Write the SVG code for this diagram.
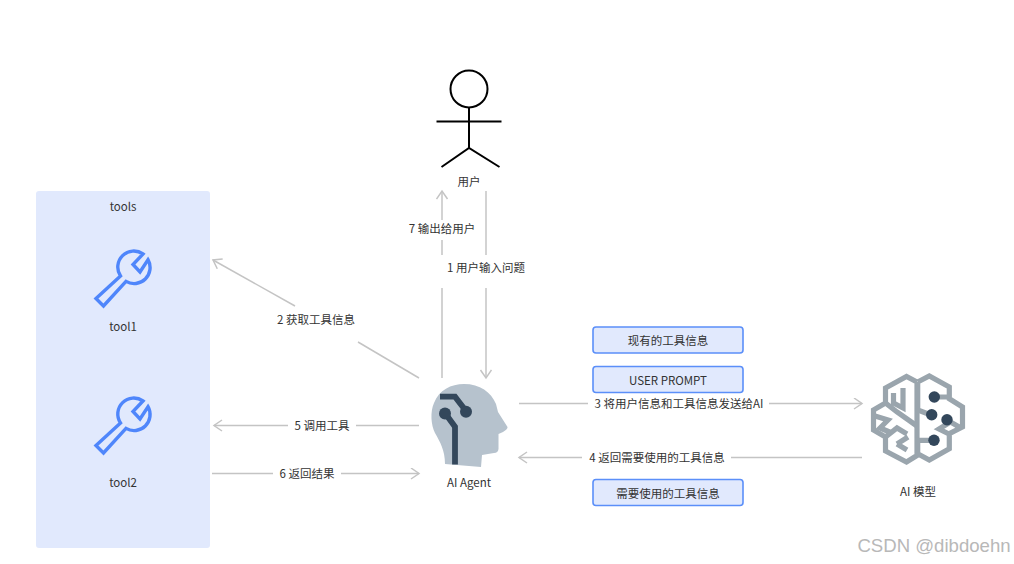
<svg xmlns="http://www.w3.org/2000/svg" width="1014" height="564" viewBox="0 0 1014 564">
<style>
text{font-family:"Noto Sans CJK SC","Noto Sans",sans-serif;font-size:11.500px;fill:#333;text-anchor:middle}
.c{fill:none;stroke:#c4c4c4;stroke-width:1.500}
.a{marker-end:url(#arr)}
.w{fill:none;stroke:#4f86fb;stroke-width:3.400;stroke-linejoin:miter}
.b{fill:#e1e9fd;stroke:#5b8ff9;stroke-width:1.600}
.br{fill:none;stroke:#9aa5ad;stroke-width:5.200;stroke-linejoin:miter}
.d{fill:#33475b}
</style>
<defs>
<marker id="arr" markerUnits="userSpaceOnUse" markerWidth="14" markerHeight="14" refX="9" refY="6" orient="auto"><path d="M1 0.500L9 6L1 11.500" fill="none" stroke="#c4c4c4" stroke-width="1.500"/></marker>
<path id="wrench" d="M96 298.500L120.500 276A16 16 0 0 1 143 254L133 264.500L140 272L148 259.700A16 16 0 0 1 126 281.400L103.500 306Z"/>
</defs>
<rect width="1014" height="564" fill="#fff"/>
<g id="tools"><rect x="36" y="191" width="174" height="357" rx="3" fill="#e1e9fd"/><text x="123" y="210.500">tools</text></g>
<g id="tool1"><use href="#wrench" class="w"/><text x="123" y="330.500">tool1</text></g>
<g id="tool2"><use href="#wrench" class="w" y="147"/><text x="123" y="486.500">tool2</text></g>
<g id="user" fill="none" stroke="#000" stroke-width="2"><circle cx="469" cy="89" r="18.500"/><path d="M469 108V148M436.500 121.500H501.500M441.500 167L469 148L499.500 167"/><text x="469" y="186" stroke="none">用户</text></g>
<g id="agent"><path d="M445 464C445 450 440 442 435 433C431 425 430 412 434 403C439 390 451 384 464 384C480 384 491 392 496 404L498 412L507.500 427Q508 429 503 432L498.500 434L498.500 449Q498 453 494 453L482 455L481 467Z" fill="#b6c2cd"/><path d="M440 396.700H455L466 411M445 413L455 426.700V464.500" fill="none" stroke="#33475b" stroke-width="5.800"/><circle class="d" cx="466" cy="411.700" r="6"/><circle class="d" cx="445" cy="413.500" r="6"/><text x="469" y="486.500">AI Agent</text></g>
<g id="model"><path class="br" d="M917 382L906.500 376.500L885.500 388V403L873.500 410V430L885.500 437V451L906.500 462L917 455.500V382"/><path class="br" d="M917.700 382L929.300 376L949.300 387V398.700L962.500 407V427L949.300 433.700V448.700L929.300 460L917.700 453.700V440.300H934M917.700 382V410L931 415M934.300 397H949M947 420L961 428M949 434L939 429L952 421"/><path class="br" d="M893.500 393V403L903 408V388M885.500 403L897 412L917 426M875 416L888 420L880 428L892 433M885.500 437L897 428L907 434M897 444L908 437M897 444L907 450"/><circle class="d" cx="934.300" cy="397" r="5.700"/><circle class="d" cx="931.700" cy="414.700" r="5.700"/><circle class="d" cx="947" cy="419.700" r="5.700"/><circle class="d" cx="934" cy="440.300" r="5.700"/><text x="918" y="495.500">AI 模型</text></g>
<g id="box1"><rect class="b" x="593" y="327" width="150" height="26" rx="3"/><text x="668" y="344.500">现有的工具信息</text></g>
<g id="box2"><rect class="b" x="593" y="366.500" width="150" height="26" rx="3"/><text x="668" y="384.500">USER PROMPT</text></g>
<g id="box3"><rect class="b" x="593" y="479.500" width="150" height="26" rx="3"/><text x="668" y="497.500">需要使用的工具信息</text></g>
<g id="connectors">
<path class="c a" d="M442 220V191"/><path class="c" d="M442 378V288M442 255V240"/>
<path class="c" d="M486 191V255"/><path class="c a" d="M486 288V378"/>
<path class="c" d="M419 378L358 342"/><path class="c a" d="M295 306L213 260"/>
<path class="c" d="M419 425.500H356"/><path class="c a" d="M288 425.500H214"/>
<path class="c" d="M212 473.500H273"/><path class="c a" d="M341 473.500H419"/>
<path class="c" d="M519 403.500H588"/><path class="c a" d="M769 403.500H862"/>
<path class="c" d="M862 457.500H731"/><path class="c a" d="M582 457.500H519"/>
</g>
<g id="labels">
<text x="442" y="233">7 输出给用户</text>
<text x="486" y="272">1 用户输入问题</text>
<text x="316" y="323.500">2 获取工具信息</text>
<text x="322" y="430">5 调用工具</text>
<text x="307" y="478">6 返回结果</text>
<text x="679" y="408">3 将用户信息和工具信息发送给AI</text>
<text x="657" y="462">4 返回需要使用的工具信息</text>
</g>
<text x="934" y="552" style="font-family:'Liberation Sans',sans-serif;font-size:18.600px;fill:#b8b8b8">CSDN @dibdoehn</text>
</svg>
